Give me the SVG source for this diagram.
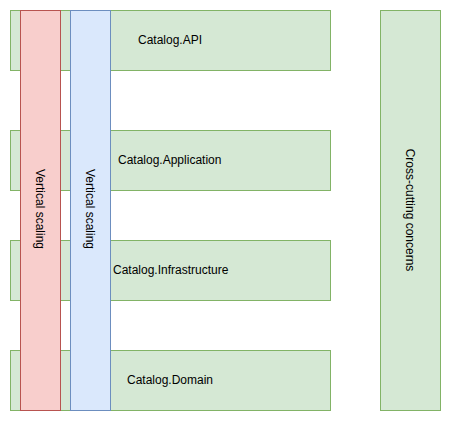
<svg xmlns="http://www.w3.org/2000/svg" width="451" height="421" viewBox="0 0 451 421">
<style>
.g{fill:#d5e8d4;stroke:#82b366;stroke-width:1}
.r{fill:#f8cecc;stroke:#b85450;stroke-width:1}
.b{fill:#dae8fc;stroke:#6c8ebf;stroke-width:1}
text{font-family:"Liberation Sans",Arial,sans-serif;font-size:12px;fill:#000}
</style>
<rect width="451" height="421" fill="#fff"/>
<g id="api"><rect class="g" x="10.5" y="10.5" width="320" height="60"/><text x="138" y="44">Catalog.API</text></g>
<g id="application"><rect class="g" x="10.5" y="130.5" width="320" height="60"/><text x="118" y="164">Catalog.Application</text></g>
<g id="infrastructure"><rect class="g" x="10.5" y="240.5" width="320" height="60"/><text x="113" y="274">Catalog.Infrastructure</text></g>
<g id="domain"><rect class="g" x="10.5" y="350.5" width="320" height="60"/><text x="127" y="384">Catalog.Domain</text></g>
<g id="crosscutting"><rect class="g" x="380.5" y="10.5" width="60" height="400"/><text transform="translate(410,210) rotate(90)" text-anchor="middle" dy="4">Cross-cutting concerns</text></g>
<g id="vscale1"><rect class="r" x="20.5" y="10.5" width="40" height="400"/><text transform="translate(40,209) rotate(90)" text-anchor="middle" dy="4">Vertical scaling</text></g>
<g id="vscale2"><rect class="b" x="70.5" y="10.5" width="40" height="400"/><text transform="translate(90,209) rotate(90)" text-anchor="middle" dy="4">Vertical scaling</text></g>
<g id="connectors"/>
</svg>
